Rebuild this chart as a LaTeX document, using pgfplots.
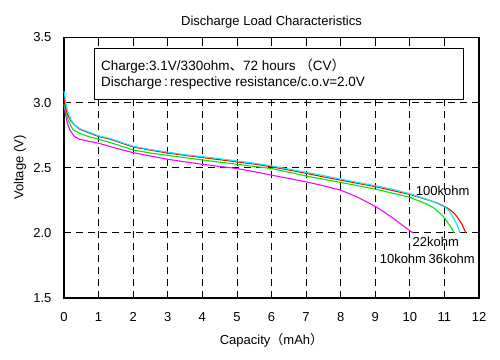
\documentclass[border=0pt]{standalone}
\usepackage{pgfplots}
\pgfplotsset{compat=1.18}
\usepackage{fontspec}
\setmainfont{Liberation Sans}
\newfontfamily\cjk{Noto Sans CJK JP}
\definecolor{cy}{RGB}{0,240,255}
\definecolor{gr}{RGB}{0,230,0}
\definecolor{mg}{RGB}{255,0,255}
\definecolor{rd}{RGB}{255,0,0}
\begin{document}
\begin{tikzpicture}
\fontsize{13bp}{15.5bp}\selectfont
\begin{axis}[
  scale only axis, width=415bp, height=260.5bp,
  xmin=0, xmax=12, ymin=1.5, ymax=3.5,
  xtick={0,1,...,12}, ytick={1.5,2.0,2.5,3.0,3.5},
  yticklabels={1.5,2.0,2.5,3.0,3.5},
  xticklabels={0,1,2,3,4,5,6,7,8,9,10,11,12},
  ticklabel style={font=\fontsize{13bp}{15.5bp}\selectfont},
  xtick pos=both, ytick pos=left,
  tick align=inside, major tick length=4bp,
  tick style={black, line width=0.8pt},
  axis line style={black, line width=1.2pt},
  grid=major, grid style={black, line width=0.8pt, dash pattern=on 7bp off 5bp},
  xticklabel style={anchor=north, yshift=-10bp},
  yticklabel style={anchor=east, xshift=-8bp},
  clip=false,
]
\addplot[mg, line width=1.1pt] coordinates {(0,2.98)(0.05,2.9)(0.1,2.84)(0.17,2.79)(0.3,2.74)(0.46,2.718)(0.7,2.705)(1.02,2.687)(1.5,2.65)(2.0,2.616)(2.5,2.59)(3.0,2.565)(3.5,2.545)(4.0,2.527)(4.5,2.51)(5.0,2.494)(5.5,2.47)(6.0,2.443)(6.5,2.418)(7.0,2.392)(7.5,2.362)(8.0,2.328)(8.5,2.273)(9.05,2.196)(9.52,2.112)(9.9,2.036)(10.09,2.0)};
\addplot[gr, line width=1.1pt] coordinates {(0,2.99)(0.05,2.93)(0.1,2.88)(0.2,2.82)(0.27,2.79)(0.5,2.76)(0.7,2.74)(1.02,2.718)(1.5,2.68)(2.0,2.636)(2.5,2.613)(3.0,2.595)(3.5,2.577)(4.0,2.56)(4.5,2.543)(5.0,2.527)(5.5,2.51)(6.0,2.494)(6.5,2.466)(7.0,2.437)(7.5,2.412)(8.0,2.387)(8.5,2.362)(9.0,2.336)(9.5,2.305)(10.0,2.273)(10.5,2.22)(10.7,2.19)(10.9,2.145)(11.02,2.11)(11.12,2.069)(11.2,2.04)(11.28,2.0)};
\addplot[rd, line width=1.1pt] coordinates {(0,3.03)(0.05,2.96)(0.1,2.91)(0.2,2.86)(0.3,2.83)(0.46,2.795)(0.7,2.77)(1.0,2.74)(1.33,2.72)(1.6,2.695)(2.0,2.66)(2.5,2.635)(3.0,2.613)(3.5,2.595)(4.0,2.578)(4.5,2.562)(5.0,2.545)(5.5,2.528)(6.0,2.507)(6.5,2.483)(7.0,2.457)(7.5,2.43)(8.0,2.405)(8.5,2.38)(9.0,2.355)(9.5,2.325)(10.0,2.295)(10.5,2.255)(10.8,2.228)(11.03,2.2)(11.2,2.17)(11.35,2.13)(11.5,2.07)(11.62,2.0)};
\addplot[cy, line width=1.1pt] coordinates {(0,3.09)(0.05,3.0)(0.1,2.94)(0.2,2.87)(0.3,2.83)(0.46,2.8)(0.7,2.775)(1.0,2.745)(1.33,2.725)(1.6,2.7)(2.0,2.665)(2.5,2.64)(3.0,2.62)(3.5,2.6)(4.0,2.585)(4.5,2.57)(5.0,2.552)(5.5,2.535)(6.0,2.515)(6.5,2.49)(7.0,2.465)(7.5,2.44)(8.0,2.413)(8.5,2.387)(9.0,2.362)(9.5,2.335)(10.0,2.3)(10.5,2.257)(10.8,2.225)(11.03,2.196)(11.15,2.165)(11.27,2.11)(11.37,2.06)(11.45,2.0)};
\draw[black, line width=0.8pt, fill=white] (axis cs:0.87,3.023) rectangle (axis cs:11.56,3.418);
\node[anchor=west, inner sep=0pt, font=\fontsize{13.5bp}{16bp}\selectfont] at (axis cs:1.07,3.283) {Charge:3.1V/330ohm{\cjk 、}72 hours {\cjk （}CV{\cjk ）}};
\node[anchor=west, inner sep=0pt, font=\fontsize{13.5bp}{16bp}\selectfont] at (axis cs:1.07,3.153) {Discharge\,:\,respective resistance/c.o.v=2.0V};
\node at (axis cs:10.95,2.321) {100kohm};
\node at (axis cs:10.75,1.931) {22kohm};
\node at (axis cs:9.80,1.80) {10kohm};
\node at (axis cs:11.21,1.80) {36kohm};
\end{axis}
\node at ([yshift=15.5bp]current axis.north) {Discharge Load Characteristics};
\node at ([yshift=-42bp]current axis.south) {Capacity{\cjk （}mAh{\cjk ）}};
\node[rotate=90] at ([xshift=-44bp]current axis.west) {Voltage (V)};
\path[use as bounding box] ([xshift=-64bp,yshift=-62bp]current axis.south west) rectangle ([xshift=21bp,yshift=37.5bp]current axis.north east);
\end{tikzpicture}
\end{document}
